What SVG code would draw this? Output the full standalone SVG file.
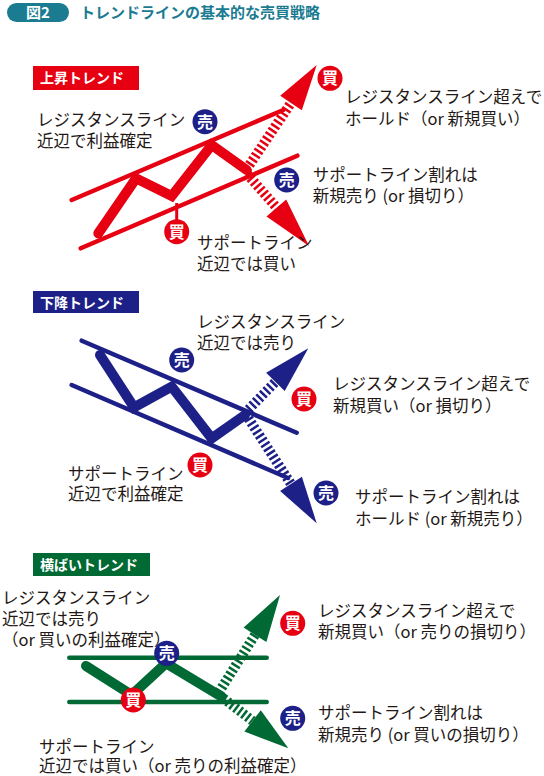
<svg xmlns="http://www.w3.org/2000/svg" width="544" height="776" viewBox="0 0 544 776">
<style>
.t{font-family:"Noto Sans CJK JP","Noto Sans",sans-serif;font-size:16.5px;fill:#231815}
.lb{font-family:"Noto Sans CJK JP",sans-serif;font-size:14px;font-weight:bold;fill:#fff}
.ct{font-family:"Noto Sans CJK JP",sans-serif;font-size:16px;font-weight:bold;fill:#fff;text-anchor:middle}
.red{stroke:#e60012;fill:none}
.blu{stroke:#1d2087;fill:none}
.grn{stroke:#006934;fill:none}
.ln{stroke-width:4.5;stroke-linecap:round}
.zz{stroke-width:10;stroke-linejoin:miter;stroke-linecap:round}
.ds{stroke-width:10;stroke-dasharray:2.5 2.5}
.buy{fill:#e60012}
.sell{fill:#1d2087}
</style>
<g id="header">
<rect x="7" y="3" width="62" height="19" rx="9.5" fill="#1b7b91"/>
<text x="38" y="18" font-family="Noto Sans CJK JP,sans-serif" font-size="15" font-weight="bold" fill="#fff" text-anchor="middle">図2</text>
<text x="80" y="18" font-family="Noto Sans CJK JP,sans-serif" font-size="15" font-weight="bold" fill="#1b7b91">トレンドラインの基本的な売買戦略</text>
</g>

<!-- Section 1: uptrend -->
<g id="label-up"><rect x="33" y="66" width="106" height="24" fill="#e60012"/><text class="lb" x="40" y="83">上昇トレンド</text></g>
<g id="connectors-up">
<line class="red ln" x1="71.7" y1="200" x2="283.3" y2="110"/>
<line class="red ln" x1="80.7" y1="248.3" x2="297.3" y2="155.7"/>
<polyline class="red zz" points="98.3,233.3 136,178.3 171.7,196 211.7,145 246.7,170"/>
<line class="red ds" x1="246.7" y1="169" x2="291" y2="103"/>
<polygon fill="#e60012" points="316.7,65 301.8,110.3 280.2,95.7"/>
<line class="red ds" x1="247" y1="174" x2="277" y2="208"/>
<polygon fill="#e60012" points="309,246 286.2,199.6 266.5,216.6"/>
<line x1="176.7" y1="203" x2="176.7" y2="222" stroke="#e60012" stroke-width="3"/>
</g>
<g id="up-sell1"><circle class="sell" cx="205" cy="121.7" r="12.5"/><text class="ct" x="205" y="127.5">売</text></g>
<g id="up-buy1"><circle class="buy" cx="330" cy="78.3" r="12.5"/><text class="ct" x="330" y="84.1">買</text></g>
<g id="up-sell2"><circle class="sell" cx="286.7" cy="180" r="12.5"/><text class="ct" x="286.7" y="185.8">売</text></g>
<g id="up-buy2"><circle class="buy" cx="176.7" cy="231.7" r="12.5"/><text class="ct" x="176.7" y="237.5">買</text></g>
<g id="up-texts">
<text class="t" x="37" y="125.5">レジスタンスライン</text>
<text class="t" x="37" y="147">近辺で利益確定</text>
<text class="t" x="345" y="103">レジスタンスライン超えで</text>
<text class="t" x="345" y="124.5">ホールド（or 新規買い）</text>
<text class="t" x="312.7" y="181">サポートライン割れは</text>
<text class="t" x="312.7" y="202">新規売り (or 損切り）</text>
<text class="t" x="197" y="249">サポートライン</text>
<text class="t" x="197" y="270">近辺では買い</text>
</g>

<!-- Section 2: downtrend -->
<g id="label-down"><rect x="33" y="291" width="106" height="22" fill="#1d2087"/><text class="lb" x="40" y="307.5">下降トレンド</text></g>
<g id="connectors-down">
<line class="blu ln" x1="81.7" y1="340.7" x2="296.7" y2="432.7"/>
<line class="blu ln" x1="71.7" y1="385" x2="288" y2="478"/>
<polyline class="blu zz" points="100,355 134,407.3 171.7,386.7 211.7,438.3 245,415"/>
<line class="blu ds" x1="245" y1="413" x2="275.4" y2="381.9"/>
<polygon fill="#1d2087" points="308.3,348.3 284.7,391 266.1,372.8"/>
<line class="blu ds" x1="248.3" y1="418.3" x2="291" y2="483.9"/>
<polygon fill="#1d2087" points="316.7,523.3 301.9,476.8 280.1,491"/>
</g>
<g id="down-sell1"><circle class="sell" cx="181.7" cy="360" r="12.5"/><text class="ct" x="181.7" y="365.8">売</text></g>
<g id="down-buy1"><circle class="buy" cx="304" cy="399" r="12.5"/><text class="ct" x="304" y="404.8">買</text></g>
<g id="down-buy2"><circle class="buy" cx="200" cy="465" r="12.5"/><text class="ct" x="200" y="470.8">買</text></g>
<g id="down-sell2"><circle class="sell" cx="326" cy="493" r="12.5"/><text class="ct" x="326" y="498.8">売</text></g>
<g id="down-texts">
<text class="t" x="197" y="328">レジスタンスライン</text>
<text class="t" x="197" y="349">近辺では売り</text>
<text class="t" x="333" y="390">レジスタンスライン超えで</text>
<text class="t" x="333" y="412">新規買い（or 損切り）</text>
<text class="t" x="68" y="480">サポートライン</text>
<text class="t" x="68" y="500">近辺で利益確定</text>
<text class="t" x="355" y="503">サポートライン割れは</text>
<text class="t" x="355" y="525">ホールド (or 新規売り）</text>
</g>

<!-- Section 3: sideways -->
<g id="label-side"><rect x="33" y="553" width="117" height="23" fill="#006934"/><text class="lb" x="40" y="570">横ばいトレンド</text></g>
<g id="connectors-side">
<line class="grn ln" x1="69.3" y1="657.7" x2="266.7" y2="657.7"/>
<line class="grn ln" x1="69.3" y1="702" x2="266.7" y2="702"/>
<polyline class="grn zz" points="86,666 131.7,695 166,663.3 221.7,696.7"/>
<line class="grn ds" x1="219" y1="692" x2="255" y2="634.8"/>
<polygon fill="#006934" points="280,595 266.4,642 243.6,627.6"/>
<line class="grn ds" x1="223.3" y1="698.3" x2="252.6" y2="720.9"/>
<polygon fill="#006934" points="288.3,748.3 260.8,710.2 244.4,731.6"/>
</g>
<g id="side-sell1"><circle class="sell" cx="166.7" cy="653.3" r="12.5"/><text class="ct" x="166.7" y="659.1">売</text></g>
<g id="side-buy1"><circle class="buy" cx="133.3" cy="700" r="12.5"/><text class="ct" x="133.3" y="705.8">買</text></g>
<g id="side-buy2"><circle class="buy" cx="292.7" cy="623.3" r="12.5"/><text class="ct" x="292.7" y="629.1">買</text></g>
<g id="side-sell2"><circle class="sell" cx="292.7" cy="718.3" r="12.5"/><text class="ct" x="292.7" y="724.1">売</text></g>
<g id="side-texts">
<text class="t" x="2" y="604">レジスタンスライン</text>
<text class="t" x="2" y="625">近辺では売り</text>
<text class="t" x="2" y="646">（or 買いの利益確定）</text>
<text class="t" x="318" y="617">レジスタンスライン超えで</text>
<text class="t" x="318" y="638">新規買い（or 売りの損切り）</text>
<text class="t" x="318" y="719">サポートライン割れは</text>
<text class="t" x="318" y="741">新規売り (or 買いの損切り）</text>
<text class="t" x="39" y="753">サポートライン</text>
<text class="t" x="39" y="772">近辺では買い（or 売りの利益確定）</text>
</g>
</svg>
